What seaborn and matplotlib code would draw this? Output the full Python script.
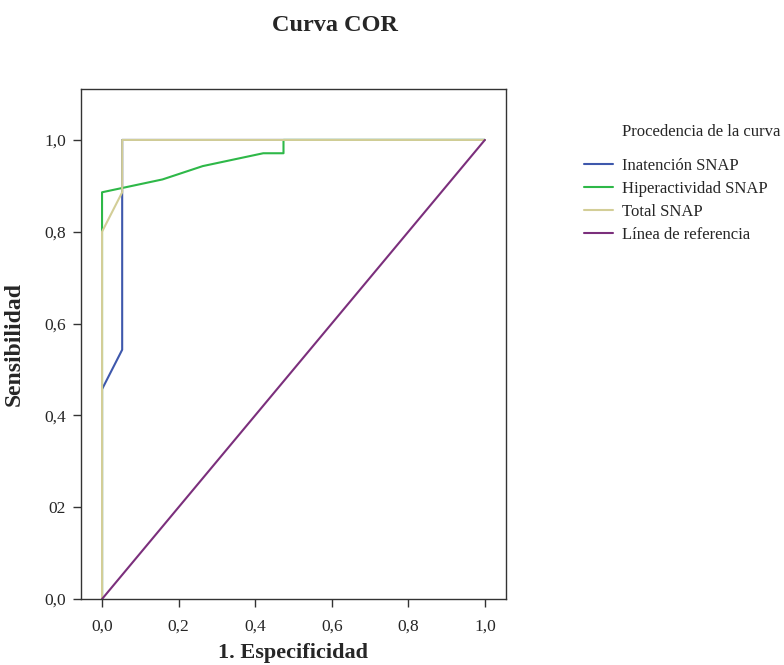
import matplotlib
matplotlib.use("Agg")
import matplotlib.pyplot as plt
import pandas as pd
import seaborn as sns

# ROC curve points (1 - especificidad, sensibilidad)
inat_x = [0.0, 0.0, 0.0526, 0.0526, 1.0]
inat_y = [0.0, 0.457, 0.543, 1.0, 1.0]

hiper_x = [0.0, 0.0, 0.158, 0.263, 0.421, 0.474, 0.474, 1.0]
hiper_y = [0.0, 0.886, 0.914, 0.943, 0.971, 0.971, 1.0, 1.0]

total_x = [0.0, 0.0, 0.0526, 0.0526, 1.0]
total_y = [0.0, 0.80, 0.886, 1.0, 1.0]

ref_x = [0.0, 1.0]
ref_y = [0.0, 1.0]

series_names = ["Inatención SNAP", "Hiperactividad SNAP", "Total SNAP", "Línea de referencia"]
series_colors = ["#3e58ac", "#2eb848", "#d3ce97", "#7b2f7c"]

x_ticks = [0.0, 0.2, 0.4, 0.6, 0.8, 1.0]
x_tick_labels = ["0,0", "0,2", "0,4", "0,6", "0,8", "1,0"]
y_ticks = [0.0, 0.2, 0.4, 0.6, 0.8, 1.0]
y_tick_labels = ["0,0", "02", "0,4", "0,6", "0,8", "1,0"]

parts = []
for name, xs, ys in zip(series_names,
                        [inat_x, hiper_x, total_x, ref_x],
                        [inat_y, hiper_y, total_y, ref_y]):
    parts.append(pd.DataFrame({"x": xs, "y": ys, "curva": name}))
df = pd.concat(parts, ignore_index=True)

sns.set_style("white")
plt.rcParams["font.family"] = ["Liberation Serif", "DejaVu Serif"]

fig = plt.figure(figsize=(7.84, 6.65), dpi=100)
ax = fig.add_axes([0.1033, 0.0992, 0.542, 0.767])

sns.lineplot(
    data=df, x="x", y="y", hue="curva", hue_order=series_names,
    palette=dict(zip(series_names, series_colors)),
    sort=False, estimator=None, linewidth=1.5, ax=ax,
)

ax.set_xlim(-0.055, 1.055)
ax.set_ylim(0.0, 1.111)
ax.set_xticks(x_ticks)
ax.set_xticklabels(x_tick_labels, fontsize=12.5)
ax.set_yticks(y_ticks)
ax.set_yticklabels(y_tick_labels, fontsize=12.5)
ax.tick_params(axis="both", direction="out", length=6, width=1, color="#333333",
               left=True, bottom=True)
ax.tick_params(axis="x", pad=8)
ax.tick_params(axis="y", pad=5)
for side in ["left", "bottom", "top", "right"]:
    ax.spines[side].set_color("#333333")
    ax.spines[side].set_linewidth(1.0)

ax.set_xlabel("1. Especificidad", fontsize=16, fontweight="bold", labelpad=6)
ax.set_ylabel("Sensibilidad", fontsize=17, fontweight="bold", labelpad=14)

fig.text(0.427, 0.961, "Curva COR", fontsize=17.5, fontweight="bold",
         ha="center", va="center")

handles, labels = ax.get_legend_handles_labels()
ax.legend(handles, labels, loc="upper left", bbox_to_anchor=(0.734, 0.775),
          bbox_transform=fig.transFigure, frameon=False, fontsize=12,
          handlelength=1.75, handletextpad=0.55, labelspacing=0.42, borderpad=0)
fig.text(0.793, 0.801, "Procedencia de la curva", fontsize=12,
         ha="left", va="center")

fig.savefig("out.png", dpi=100)
